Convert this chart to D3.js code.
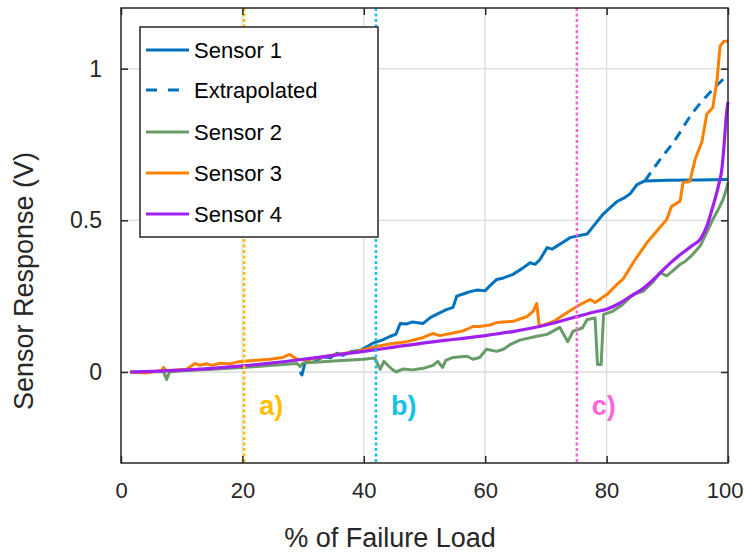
<!DOCTYPE html>
<html>
<head>
<meta charset="utf-8">
<script src="https://cdn.jsdelivr.net/npm/d3@7"></script>
<style>
  body { margin: 0; background: #fff; }
  text { font-family: "Liberation Sans", Arial, sans-serif; }
</style>
</head>
<body>
<div id="chart"></div>
<script>
// values
const xTicks = [0, 20, 40, 60, 80, 100];
const yTicks = [0, 0.5, 1];
const yTickLabels = ["0", "0.5", "1"];

const sensor1 = [[29.5, 0.0], [29.8, -0.01], [30.3, 0.03], [31.3, 0.045], [32.3, 0.04], [33.3, 0.05], [34.5, 0.047],
  [35.6, 0.062], [36.5, 0.055], [38, 0.068], [39.5, 0.072], [41.5, 0.095], [43, 0.105], [44.3, 0.117], [45.3, 0.125],
  [46, 0.16], [47, 0.158], [48, 0.165], [49.8, 0.16], [51, 0.18], [52.5, 0.195], [53.5, 0.205], [54.7, 0.213],
  [55.3, 0.25], [56.5, 0.258], [57.5, 0.265], [58.6, 0.27], [60, 0.268], [60.8, 0.285], [61.9, 0.305], [63, 0.31],
  [64.6, 0.322], [66, 0.34], [67.4, 0.36], [68.2, 0.355], [69, 0.37], [70.2, 0.41], [71, 0.405], [71.8, 0.415],
  [73, 0.43], [74, 0.443], [75.5, 0.45], [76.8, 0.455], [77.8, 0.48], [79.4, 0.52], [80.5, 0.54], [81.7, 0.562],
  [83, 0.575], [83.9, 0.588], [85, 0.618], [86.3, 0.63], [90, 0.632], [95, 0.633], [100, 0.635]];

const extrapolated = [[86.3, 0.63], [88.8, 0.70], [91, 0.757], [94.2, 0.855], [96.5, 0.91], [99.2, 0.965]];

const sensor2 = [[1.5, 0], [5, 0.001], [7, 0.002], [7.5, -0.025], [8, 0.0], [10, 0.004], [15, 0.009], [20, 0.015],
  [25, 0.022], [29, 0.028], [29.5, 0.018], [30, 0.03], [35, 0.036], [40, 0.042], [41.8, 0.046], [42.7, 0.009],
  [43.3, 0.035], [44.6, 0.01], [45.3, 0.0], [46.5, 0.01], [48, 0.007], [49.8, 0.012], [51.4, 0.022], [52.2, 0.035],
  [53, 0.015], [53.5, 0.038], [54.7, 0.048], [57, 0.052], [58, 0.042], [59.1, 0.048], [60.2, 0.075], [61.9, 0.068],
  [63, 0.075], [64.1, 0.09], [65.7, 0.105], [68.5, 0.118], [70.2, 0.124], [72.3, 0.147], [73.6, 0.1], [74.5, 0.135],
  [76, 0.145], [76.8, 0.173], [78.1, 0.178], [78.5, 0.025], [79.1, 0.025], [79.5, 0.19], [81, 0.2], [82.5, 0.22],
  [84.4, 0.256], [86, 0.266], [87.6, 0.296], [88.8, 0.328], [89.9, 0.317], [91, 0.335], [92.1, 0.355], [93, 0.365],
  [94.2, 0.388], [95.4, 0.415], [96.5, 0.46], [97.5, 0.503], [98.5, 0.54], [99.2, 0.569], [99.7, 0.6], [100, 0.625]];

const sensor3 = [[1.5, 0.0], [4, -0.003], [6.7, 0.005], [7, 0.015], [7.5, 0.004], [10.8, 0.009], [12.2, 0.028],
  [13, 0.022], [14.1, 0.027], [15, 0.022], [16.3, 0.029], [18, 0.027], [19.6, 0.035], [21.8, 0.038], [24.5, 0.042],
  [26.7, 0.048], [27.8, 0.058], [29, 0.042], [30.5, 0.04], [32.8, 0.048], [35.5, 0.058], [38.9, 0.068], [42.2, 0.085],
  [44.5, 0.093], [47.1, 0.1], [49.5, 0.112], [51.4, 0.127], [52.5, 0.12], [54.5, 0.128], [56.3, 0.135], [58, 0.15],
  [59.1, 0.15], [60.8, 0.155], [61.9, 0.163], [64.6, 0.167], [66.9, 0.183], [67.9, 0.2], [68.5, 0.226], [68.9, 0.15],
  [71.2, 0.166], [73.5, 0.196], [75.6, 0.222], [77.3, 0.239], [78.1, 0.229], [80.1, 0.256], [81.7, 0.289],
  [82.7, 0.306], [84.4, 0.361], [86.7, 0.428], [88.8, 0.477], [89.9, 0.503], [90.7, 0.546], [92.1, 0.563],
  [92.6, 0.625], [93.7, 0.628], [94.6, 0.702], [95.7, 0.758], [96.5, 0.85], [97.5, 0.872], [98.2, 0.965],
  [98.7, 1.074], [99.3, 1.09], [100, 1.09]];

const sensor4 = [[1.5, 0], [5, 0.002], [10, 0.006], [15, 0.012], [20, 0.02], [25, 0.03], [30, 0.042], [35, 0.055],
  [40, 0.068], [45, 0.082], [50, 0.096], [55, 0.108], [60, 0.12], [65, 0.135], [70, 0.155], [75, 0.182], [78, 0.198],
  [80, 0.207], [82, 0.225], [84, 0.25], [86, 0.275], [88, 0.31], [90, 0.35], [92, 0.385], [94, 0.415], [95.5, 0.44],
  [96.5, 0.48], [97.5, 0.545], [98.5, 0.62], [99, 0.67], [99.4, 0.76], [99.7, 0.84], [100, 0.89]];

const markers = [20.3, 42.0, 75.1];
const markerLabels = ["a)", "b)", "c)"];
const markerColors = ["#FFBF00", "#17C0E6", "#FF66DD"];

const legendNames = ["Sensor 1", "Extrapolated", "Sensor 2", "Sensor 3", "Sensor 4"];
const legendColors = ["#0072BD", "#0072BD", "#689B68", "#FF8000", "#A020F0"];

const W = 744, H = 554;
const margin = { top: 8, right: 16, bottom: 91, left: 121 };
const w = W - margin.left - margin.right;
const h = H - margin.top - margin.bottom;

const svg = d3.select("#chart").append("svg")
  .attr("width", W)
  .attr("height", H);

const g = svg.append("g").attr("transform", `translate(${margin.left},${margin.top})`);

const x = d3.scaleLinear().domain([0, 100]).range([0, w]);
const y = d3.scaleLinear().domain([-0.3, 1.2]).range([h, 0]);

// grid
g.append("g").selectAll("line").data(xTicks.slice(1, -1)).join("line")
  .attr("x1", d => x(d)).attr("x2", d => x(d)).attr("y1", 0).attr("y2", h)
  .attr("stroke", "#dcdcdc").attr("stroke-width", 1.3);
g.append("g").selectAll("line").data(yTicks).join("line")
  .attr("x1", 0).attr("x2", w).attr("y1", d => y(d)).attr("y2", d => y(d))
  .attr("stroke", "#dcdcdc").attr("stroke-width", 1.3);

// data lines
const line = d3.line().x(d => x(d[0])).y(d => y(d[1]));
const smooth = d3.line().x(d => x(d[0])).y(d => y(d[1])).curve(d3.curveMonotoneX);

g.append("path").datum(sensor1).attr("d", line)
  .attr("fill", "none").attr("stroke", legendColors[0]).attr("stroke-width", 3).attr("stroke-linejoin", "round");
g.append("path").datum(extrapolated).attr("d", smooth)
  .attr("fill", "none").attr("stroke", legendColors[1]).attr("stroke-width", 3).attr("stroke-dasharray", "10,7");
g.append("path").datum(sensor2).attr("d", line)
  .attr("fill", "none").attr("stroke", legendColors[2]).attr("stroke-width", 3).attr("stroke-linejoin", "round");
g.append("path").datum(sensor3).attr("d", line)
  .attr("fill", "none").attr("stroke", legendColors[3]).attr("stroke-width", 3).attr("stroke-linejoin", "round");
g.append("path").datum(sensor4).attr("d", smooth)
  .attr("fill", "none").attr("stroke", legendColors[4]).attr("stroke-width", 3.2);

// vertical markers
markers.forEach((m, i) => {
  g.append("line")
    .attr("x1", x(m)).attr("x2", x(m)).attr("y1", 0).attr("y2", h)
    .attr("stroke", markerColors[i]).attr("stroke-width", 2.5).attr("stroke-dasharray", "3,2.5");
  g.append("text")
    .attr("x", x(m) + 15).attr("y", y(-0.143))
    .attr("fill", markerColors[i])
    .attr("font-size", 27).attr("font-weight", "bold")
    .text(markerLabels[i]);
});

// axes box with inward ticks
const axisColor = "#262626";
const tickLen = 7;
g.append("rect").attr("width", w).attr("height", h)
  .attr("fill", "none").attr("stroke", axisColor).attr("stroke-width", 1.5);

const bottomAxis = d3.axisBottom(x).tickValues(xTicks).tickSizeInner(-tickLen).tickSizeOuter(0).tickPadding(19);
const ax = g.append("g").attr("transform", `translate(0,${h})`).call(bottomAxis);
ax.select(".domain").remove();
ax.selectAll("line").attr("stroke", axisColor).attr("stroke-width", 1.5);
ax.selectAll("text").attr("fill", axisColor).attr("font-size", 22).attr("font-family", "Liberation Sans, Arial, sans-serif");
// keep the last label inside the page
ax.selectAll("text").filter(d => d === 100).attr("text-anchor", "end").attr("x", 743 - margin.left - w);

const axTop = g.append("g").call(d3.axisTop(x).tickValues(xTicks).tickSizeInner(-tickLen).tickSizeOuter(0).tickFormat(""));
axTop.select(".domain").remove();
axTop.selectAll("line").attr("stroke", axisColor).attr("stroke-width", 1.5);

const leftAxis = d3.axisLeft(y).tickValues(yTicks).tickFormat((d, i) => yTickLabels[i])
  .tickSizeInner(-tickLen).tickSizeOuter(0).tickPadding(19);
const ay = g.append("g").call(leftAxis);
ay.select(".domain").remove();
ay.selectAll("line").attr("stroke", axisColor).attr("stroke-width", 1.5);
ay.selectAll("text").attr("fill", axisColor).attr("font-size", 23).attr("font-family", "Liberation Sans, Arial, sans-serif");

const axRight = g.append("g").attr("transform", `translate(${w},0)`)
  .call(d3.axisRight(y).tickValues(yTicks).tickSizeInner(-tickLen).tickSizeOuter(0).tickFormat(""));
axRight.select(".domain").remove();
axRight.selectAll("line").attr("stroke", axisColor).attr("stroke-width", 1.5);

// axis titles
svg.append("text")
  .attr("x", 390).attr("y", 547)
  .attr("text-anchor", "middle").attr("font-size", 27).attr("fill", axisColor)
  .text("% of Failure Load");
svg.append("text")
  .attr("transform", "translate(33,281) rotate(-90)")
  .attr("text-anchor", "middle").attr("font-size", 27).attr("fill", axisColor)
  .text("Sensor Response (V)");

// legend
const lg = svg.append("g").attr("transform", "translate(140,27)");
lg.append("rect").attr("width", 238).attr("height", 210)
  .attr("fill", "#fff").attr("stroke", axisColor).attr("stroke-width", 1.5);
const rowY = [23, 63, 105, 146, 187];
legendNames.forEach((name, i) => {
  lg.append("line")
    .attr("x1", 6).attr("x2", 49).attr("y1", rowY[i]).attr("y2", rowY[i])
    .attr("stroke", legendColors[i]).attr("stroke-width", 3)
    .attr("stroke-dasharray", i === 1 ? "11,11" : null);
  lg.append("text")
    .attr("x", 54).attr("y", rowY[i]).attr("dy", "0.35em")
    .attr("font-size", 22).attr("fill", "#000")
    .text(name);
});
</script>
</body>
</html>
